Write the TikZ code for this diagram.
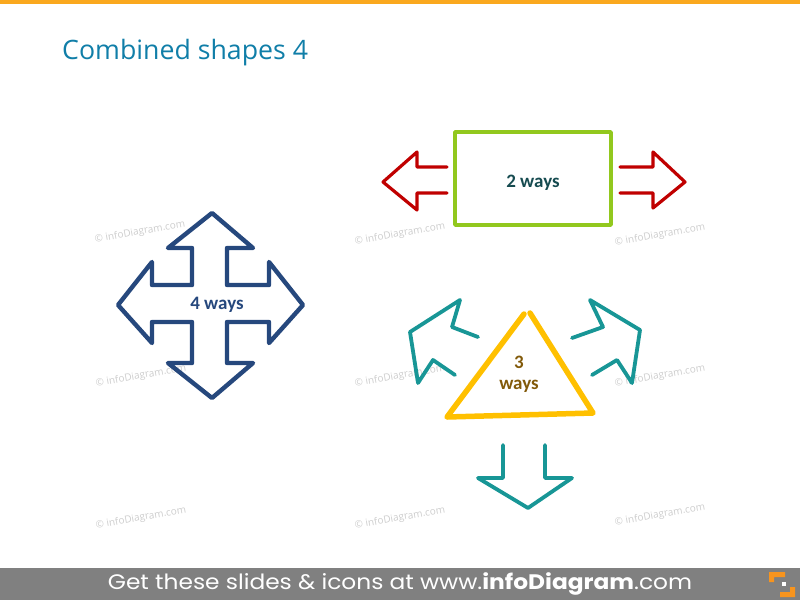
\documentclass[tikz,border=0pt]{standalone}
\usepackage{fontspec}
\setmainfont{Carlito}
\newfontfamily\titlefont{Open Sans}
\newfontfamily\footfont{Poppins}
\definecolor{topbar}{RGB}{250,168,30}
\definecolor{titleblue}{RGB}{16,126,168}
\definecolor{fourblue}{RGB}{38,72,125}
\definecolor{boxgreen}{RGB}{146,200,30}
\definecolor{twoteal}{RGB}{22,75,80}
\definecolor{arrowred}{RGB}{192,0,0}
\definecolor{triyellow}{RGB}{255,192,0}
\definecolor{threebrown}{RGB}{130,90,10}
\definecolor{arrowteal}{RGB}{24,150,150}
\definecolor{footgray}{RGB}{128,128,128}
\definecolor{footorange}{RGB}{247,148,30}
\definecolor{wmgray}{RGB}{205,205,205}
\tikzset{
  sketch/.style={line join=round, line cap=round},
  label/.style={font=\fontsize{19}{21}\selectfont\bfseries, inner sep=0pt},
  watermark/.style={font=\titlefont\fontsize{10}{12}\selectfont, text=wmgray, rotate=10, inner sep=0pt}
}
\begin{document}
\begin{tikzpicture}[x=1pt,y=-1pt]
\useasboundingbox (0,0) rectangle (800,600);
% top bar
\fill[topbar] (0,0) rectangle (800,4);
% title
\node[anchor=base west, inner sep=0pt, text=titleblue, font=\titlefont\fontsize{26.7}{30}\selectfont] (title) at (62,59) {Combined shapes 4};

% watermarks
\node[watermark] (wm1) at (140,232) {© infoDiagram.com};
\node[watermark] (wm2) at (400,234) {© infoDiagram.com};
\node[watermark] (wm3) at (660,235) {© infoDiagram.com};
\node[watermark] (wm4) at (141,376) {© infoDiagram.com};
\node[watermark] (wm5) at (400,376) {© infoDiagram.com};
\node[watermark] (wm6) at (660,376) {© infoDiagram.com};
\node[watermark] (wm7) at (141,518) {© infoDiagram.com};
\node[watermark] (wm8) at (400,518) {© infoDiagram.com};
\node[watermark] (wm9) at (660,515) {© infoDiagram.com};

% 4-way arrow
\draw[sketch, fourblue, line width=4.4pt]
 (212,213) -- (253,248) -- (227,248) -- (227,285) -- (269,285) -- (269,262) -- (303,305)
 -- (269,343) -- (269,322) -- (227,322) -- (227,363) -- (253,363) -- (212,398)
 -- (168,363) -- (192,363) -- (192,322) -- (152,322) -- (152,343) -- (118,305)
 -- (152,262) -- (152,285) -- (192,285) -- (192,248) -- (168,248) -- cycle;
\node[label, text=fourblue] (four) at (217,305) {4 ways};

% 2 ways
\draw[sketch, boxgreen, line width=3.5pt] (455,132) rectangle (611,225);
\node[label, text=twoteal] (two) at (533,183) {2 ways};
\draw[sketch, arrowred, line width=3.2pt]
 (447,167) -- (417,167) -- (417,152) -- (383,182) -- (417,210) -- (417,193) -- (447,193);
\draw[sketch, arrowred, line width=3.2pt]
 (620,167) -- (653,167) -- (653,152) -- (685,182) -- (653,208) -- (653,193) -- (620,193);

% 3 ways
\draw[sketch, triyellow, line width=5.5pt]
 (524,314) -- (447,417) -- (593,413) -- (530,313);
\node[label, text=threebrown] (three) at (519,362) {3};
\node[label, text=threebrown] (threeways) at (519,386) {ways};
\draw[sketch, arrowteal, line width=3.8pt]
 (503,445) -- (503,478) -- (478,478) -- (528,508) -- (572,478) -- (545,478) -- (545,445);
\draw[sketch, arrowteal, line width=3.8pt]
 (478,337) -- (452,327) -- (460,300) -- (410,332) -- (418,383) -- (433,360) -- (455,375);
\draw[sketch, arrowteal, line width=3.8pt]
 (572,338) -- (603,327) -- (590,300) -- (640,330) -- (632,383) -- (617,360) -- (592,375);

% footer
\fill[footgray] (0,568) rectangle (800,600);
\node[inner sep=0pt, text=white, font=\footfont\fontsize{21}{24}\selectfont] (foot) at (400,584)
 {\scalebox{1.11}[1]{Get these slides \& icons at www.\textbf{infoDiagram}.com}};
\fill[footorange] (769,572) -- (785,572) -- (785,577) -- (774,577) -- (774,582) -- (769,582) -- cycle;
\fill[footorange] (795,597) -- (780,597) -- (780,592) -- (790,592) -- (790,587) -- (795,587) -- cycle;
\fill[white] (782,582) rectangle (786,586);
\end{tikzpicture}
\end{document}
